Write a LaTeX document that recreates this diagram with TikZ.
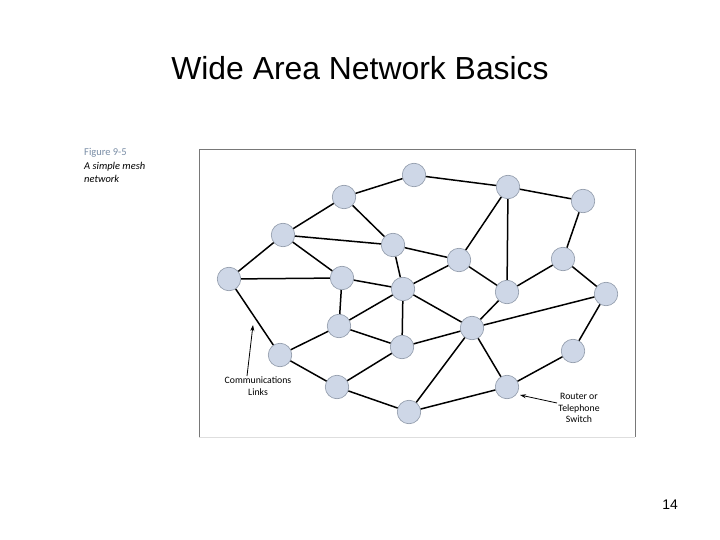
\documentclass[tikz,border=0pt]{standalone}
\usepackage{fontspec}
\setmainfont{Liberation Sans}
\newfontfamily\capfont{Carlito}
\usetikzlibrary{arrows.meta}
\definecolor{nodefill}{RGB}{206,215,231}
\definecolor{nodeedge}{RGB}{140,150,166}
\definecolor{framegray}{RGB}{120,120,120}
\definecolor{framelight}{RGB}{222,222,222}
\definecolor{figblue}{RGB}{120,140,165}
\tikzset{
  sw/.style={circle, minimum size=23.5bp, inner sep=0pt, fill=nodefill, draw=nodeedge, line width=0.6bp},
  link/.style={line width=1.5bp, black},
  pointer/.style={line width=0.8bp, black, -{Stealth[length=6bp,width=4bp]}},
  lbl/.style={font=\capfont\fontsize{9.8}{11.5}\selectfont, align=center, inner sep=0pt}
}
\begin{document}
\begin{tikzpicture}[x=1bp,y=-1bp]
\useasboundingbox (0,0) rectangle (720,540);
% title
\node[font=\fontsize{32}{36}\selectfont, inner sep=0pt] (title) at (360,68) {Wide Area Network Basics};
\node[font=\fontsize{14}{16}\selectfont, inner sep=0pt] (pagenum) at (670,505) {14};
% caption
\node[anchor=north west, inner sep=0pt, align=left, font=\capfont\fontsize{10.5}{13.5}\selectfont] (caption) at (84,148.5)
  {\textcolor{figblue}{Figure 9-5}\\ \textit{A simple mesh}\\ \textit{network}};
% frame
\coordinate (fTL) at (199,149.5);
\coordinate (fTR) at (635,149.5);
\coordinate (fBR) at (635,437);
\coordinate (fBL) at (199,437);
\draw[framelight, line width=1bp] (fBL) -- (fBR);
\draw[framegray, line width=1bp] (fBL) -- (fTL) -- (fTR) -- (fBR);
% switches
\node[sw] (A) at (344,197) {};
\node[sw] (B) at (414,175) {};
\node[sw] (C) at (508,187) {};
\node[sw] (D) at (583,201) {};
\node[sw] (E) at (283,235) {};
\node[sw] (F) at (393,245) {};
\node[sw] (G) at (459,260) {};
\node[sw] (H) at (563,259) {};
\node[sw] (I) at (229,279) {};
\node[sw] (J) at (342,278) {};
\node[sw] (K) at (403,289) {};
\node[sw] (L) at (507,292) {};
\node[sw] (M) at (606,294) {};
\node[sw] (N) at (339,326) {};
\node[sw] (O) at (472,328) {};
\node[sw] (P) at (402,347) {};
\node[sw] (Q) at (280,355) {};
\node[sw] (R) at (573,351) {};
\node[sw] (S) at (337,387) {};
\node[sw] (T) at (507,387) {};
\node[sw] (U) at (409,412) {};
% links
\foreach \a/\b in {A/B,A/E,A/F,B/C,C/D,C/G,C/L,D/H,E/F,E/I,E/J,F/G,F/K,G/K,G/L,H/L,H/M,
  I/J,I/Q,J/K,J/N,K/O,K/P,L/O,M/O,M/R,N/K,N/P,N/Q,O/P,O/T,O/U,Q/S,R/T,S/P,S/U,T/U}
  \draw[link] (\a) -- (\b);
% labels
\node[lbl] (commlbl) at (258,386) {Communications\\Links};
\coordinate (commtail) at (247,376);
\coordinate (commhead) at (253,325);
\draw[pointer] (commtail) -- (commhead);
\node[lbl] (routerlbl) at (579,408) {Router or\\Telephone\\Switch};
\coordinate (routertail) at (557,403);
\coordinate (routerhead) at (520,395);
\draw[pointer] (routertail) -- (routerhead);
\end{tikzpicture}
\end{document}
